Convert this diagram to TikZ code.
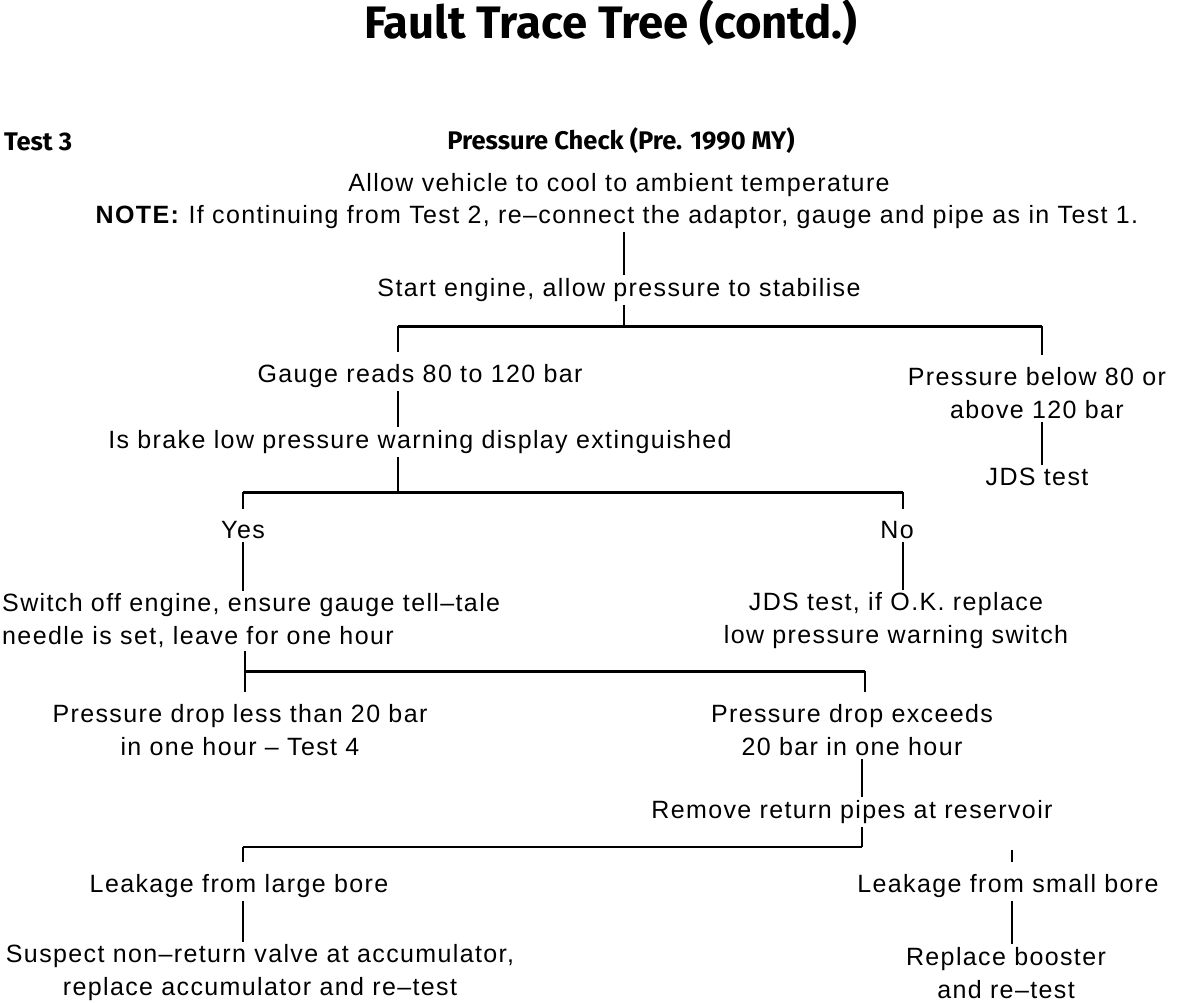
\documentclass[tikz,border=0pt]{standalone}
\usepackage{fontspec}
\setmainfont{Liberation Sans}[LetterSpace=5.5]
\newfontfamily\headfont{Fira Sans}
\usepackage{tikz}

\begin{document}
\begin{tikzpicture}[x=1pt, y=-1pt,
  font=\fontsize{25}{33}\selectfont, inner sep=3pt,
  txt/.style={align=center},
  head/.style={font=\headfont\bfseries\fontsize{25.5}{28}\selectfont},
  stem/.style={line width=1.6pt},
  drop/.style={stem, shorten >=9pt},
  bar/.style={line width=3pt}]
  \useasboundingbox (0,0) rectangle (1200,1002);
  % heading
  \node[font=\headfont\bfseries\fontsize{45.5}{50}\selectfont] (title) at (611,23) {Fault Trace Tree (contd.)};
  \node[head, anchor=west] (test) at (1,142) {Test 3};
  \node[head] (check) at (621,141) {Pressure Check (Pre. 1990 MY)};
  \node[txt] (allow) at (619,185) {Allow vehicle to cool to ambient temperature};
  \node[txt] (note) at (617,217) {\textbf{NOTE:} If continuing from Test 2, re--connect the adaptor, gauge and pipe as in Test 1.};
  \node[txt] (start) at (619,290) {Start engine, allow pressure to stabilise};
  % first split
  \node[txt] (gauge) at (420,376) {Gauge reads 80 to 120 bar};
  \node[txt] (below) at (1037,393) {Pressure below 80 or\\above 120 bar};
  \node[txt] (jds) at (1037,477) {JDS test};
  \node[txt] (brake) at (420,442) {Is brake low pressure warning display extinguished};
  % second split
  \node[txt] (yes) at (243,530) {Yes};
  \node[txt] (no) at (897,530) {No};
  \node[align=left, anchor=west] (switch) at (-1,621) {Switch off engine, ensure gauge tell--tale\\needle is set, leave for one hour};
  \node[txt] (jdsok) at (896,621) {JDS test, if O.K. replace\\low pressure warning switch};
  % third split
  \node[txt] (less) at (240,730) {Pressure drop less than 20 bar\\in one hour -- Test 4};
  \node[txt] (exceeds) at (852,730) {Pressure drop exceeds\\20 bar in one hour};
  \node[txt] (remove) at (852,812) {Remove return pipes at reservoir};
  % fourth split
  \node[txt] (large) at (239,886) {Leakage from large bore};
  \node[txt] (small) at (1008,886) {Leakage from small bore};
  \node[txt] (suspect) at (260,973) {Suspect non--return valve at accumulator,\\replace accumulator and re--test};
  \node[txt] (booster) at (1006,973) {Replace booster\\and re--test};
  % junctions
  \coordinate (b1l) at (398,326); \coordinate (b1m) at (624,326); \coordinate (b1r) at (1042,326);
  \coordinate (b2l) at (243,492); \coordinate (b2m) at (398,492); \coordinate (b2r) at (903,492);
  \coordinate (b3l) at (245,671); \coordinate (b3r) at (865,671);
  \coordinate (b4l) at (243,847); \coordinate (b4r) at (862,847);
  \coordinate (sb) at (1012,850);
  % connectors
  \draw[stem] (note.south -| b1m) -- (start.north -| b1m);
  \draw[stem] (start.south -| b1m) -- (b1m);
  \draw[bar] (b1l) -- (b1r);
  \draw[drop] (b1l) -- (gauge.north -| b1l); \draw[drop] (b1r) -- (below.north -| b1r);
  \draw[stem] (gauge.south -| b1l) -- (brake.north -| b1l);
  \draw[stem] (below.south -| b1r) -- (jds.north -| b1r);
  \draw[stem] (brake.south -| b2m) -- (b2m);
  \draw[bar] (b2l) -- (b2r);
  \draw[drop] (b2l) -- (yes.north -| b2l); \draw[drop] (b2r) -- (no.north -| b2r);
  \draw[stem] (yes.south -| b2l) -- (switch.north -| b2l);
  \draw[stem] (no.south -| b2r) -- (jdsok.north -| b2r);
  \draw[stem] (switch.south -| b3l) -- (b3l);
  \draw[bar] (b3l) -- (b3r);
  \draw[drop] (b3l) -- (less.north -| b3l); \draw[drop] (b3r) -- (exceeds.north -| b3r);
  \draw[stem] (exceeds.south -| b4r) -- (remove.north -| b4r);
  \draw[stem] (remove.south -| b4r) -- (b4r);
  \draw[bar, line width=2.2pt] (b4l) -- (b4r);
  \draw[drop] (b4l) -- (large.north -| b4l);
  \draw[drop] (sb) -- (small.north -| sb);
  \draw[stem] (large.south -| b4l) -- (suspect.north -| b4l);
  \draw[stem] (small.south -| sb) -- (booster.north -| sb);
\end{tikzpicture}
\end{document}
